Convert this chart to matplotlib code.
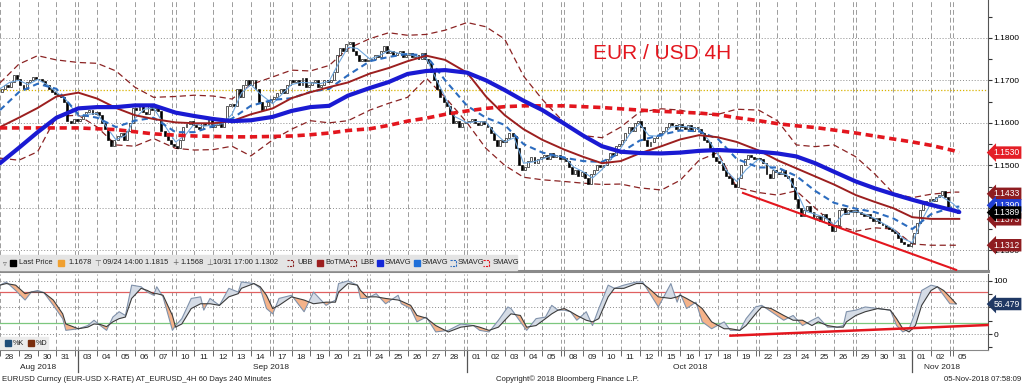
import numpy as np
import matplotlib.pyplot as plt
from matplotlib.patches import Rectangle

plt.rcParams['font.family'] = ['Liberation Sans', 'DejaVu Sans']

# trading days on the axis: 4H bars, 6 per day, every Monday starts with a Sunday bar
day_labels = ['28', '29', '30', '31',
              '03', '04', '05', '06', '07', '10', '11', '12', '13', '14', '17', '18', '19', '20', '21',
              '24', '25', '26', '27', '28',
              '01', '02', '03', '04', '05', '08', '09', '10', '11', '12', '15', '16', '17', '18', '19',
              '22', '23', '24', '25', '26', '29', '30', '31',
              '01', '02', '05']
monday_idx = [4, 9, 14, 19, 24, 29, 34, 39, 44, 49]
bars_in_day = [6] * 49 + [2]
months = ['Aug 2018', 'Sep 2018', 'Oct 2018', 'Nov 2018']
month_first = [0, 4, 24, 47]
month_last = [3, 23, 46, 49]

# closes of the 4H bars, pips above 1.1000
first_open = 672
closes = [
    680, 688, 684, 695, 712, 703, 690, 680, 695, 700, 708, 702,
    704, 698, 690, 680, 672, 668, 662, 660, 650, 605, 600, 608,
    605,
    610, 615, 625, 630, 620, 625, 618, 600, 585, 560, 545, 560,
    570, 575, 560, 580, 600, 635, 630, 640, 625, 620, 640, 630,
    635, 628, 580, 570, 560, 550,
    545,
    540, 560, 590, 598, 605, 595, 590, 585, 600, 595, 610, 590,
    595, 600, 590, 605, 640, 645, 640, 680, 660, 690, 700, 690,
    700, 680, 650, 630, 640, 650,
    655,
    660, 670, 680, 670, 690, 700, 695, 700, 690, 705, 685, 690,
    695, 700, 685, 690, 700, 695, 700, 720, 760, 775, 770, 785,
    790, 770, 760, 745, 750, 745,
    748,
    750, 760, 755, 770, 780, 765, 770, 760, 765, 770, 755, 760,
    765, 755, 760, 750, 765, 750, 740, 720, 700, 680, 660, 650,
    640, 620, 600, 605, 590, 600,
    602,
    605, 610, 600, 595, 605, 598, 590, 575, 560, 545, 560, 555,
    565, 575, 570, 540, 500, 490, 495, 510, 520, 505, 515, 520,
    525, 515, 530, 520, 525, 515,
    518,
    510, 495, 480, 490, 475, 485, 470, 455, 480, 490, 500, 495,
    500, 515, 530, 525, 545, 550, 560, 575, 590, 580, 600, 605,
    590, 560, 545, 555, 565, 570,
    575,
    580, 590, 600, 595, 585, 598, 590, 585, 595, 580, 590, 585,
    575, 560, 555, 540, 520, 510, 505, 490, 475, 470, 455, 450,
    470, 500, 515, 525, 520, 515,
    518,
    515, 505, 480, 470, 490, 485, 480, 490, 475, 470, 450, 420,
    400, 380, 395, 405, 390, 375, 380, 370, 385, 375, 360, 345,
    360, 395, 400, 385, 395, 390,
    395,
    390, 385, 380, 385, 375, 370, 375, 365, 360, 355, 350, 345,
    340, 330, 320, 315, 310, 318, 340, 365, 395, 410, 415, 420,
    415, 425, 430, 440, 425, 400,
    395,
    392, 389,
]

# indicators read at each day boundary (pips above 1.1000)
blue_sma = [505, 541, 578, 612, 634, 637, 637, 641, 641, 624, 616, 609, 604, 606, 614, 628, 637,
            640, 664, 682, 696, 715, 722, 724, 718, 700, 677, 652, 630, 598, 570, 545, 532, 529,
            528, 530, 534, 536, 534, 532, 528, 521, 505, 485, 462, 446, 432, 419, 407, 394, 390]
red_sma = [588, 588, 588, 588, 588, 586, 584, 579, 574, 571, 569, 568, 567, 567, 568, 569, 572,
           576, 582, 586, 594, 604, 611, 620, 628, 634, 638, 640, 640, 640, 638, 636, 633, 630,
           627, 625, 623, 619, 612, 605, 598, 593, 589, 583, 576, 569, 562, 555, 547, 535, 530]
botma = [590, 612, 635, 662, 671, 657, 635, 618, 609, 601, 599, 599, 604, 620, 634, 658, 672,
         684, 695, 716, 729, 745, 758, 748, 718, 662, 618, 585, 560, 537, 520, 505, 510, 528,
         545, 561, 571, 566, 555, 535, 512, 493, 474, 455, 430, 414, 399, 378, 374, 374, 374]
upper_bb = [694, 738, 758, 748, 742, 740, 722, 684, 660, 662, 665, 663, 656, 690, 708, 724, 722,
            735, 775, 798, 812, 806, 808, 818, 836, 826, 797, 710, 655, 600, 570, 565, 590, 625,
            633, 630, 620, 620, 632, 630, 605, 548, 544, 548, 520, 480, 434, 424, 432, 437, 437]
lower_bb = [517, 512, 532, 615, 618, 590, 548, 545, 563, 540, 536, 537, 545, 522, 560, 585, 605,
            600, 605, 630, 646, 660, 705, 660, 600, 540, 500, 472, 466, 462, 458, 455, 456, 447,
            442, 465, 512, 530, 448, 436, 430, 440, 400, 360, 345, 353, 350, 315, 312, 312, 312]
dash_blue = [630, 672, 692, 680, 620, 612, 590, 605, 612, 578, 578, 592, 610, 640, 654, 658, 673,
             680, 712, 745, 755, 762, 758, 700, 640, 612, 595, 550, 530, 518, 510, 508, 530, 558,
             572, 582, 580, 562, 515, 495, 495, 475, 440, 412, 398, 390, 375, 350, 385, 402, 403]
# fast average, read at day start and mid-day
fast_avg = [680, 695, 700, 690, 702, 690, 672, 655, 615, 620, 622, 590, 560, 570, 610, 632,
            635, 600, 555, 570, 598, 592, 595, 598, 620, 670, 690, 668, 645, 668, 690, 695,
            694, 692, 698, 740, 778, 775, 750, 758, 770, 764, 762, 756, 752, 705, 660, 615,
            600, 603, 602, 575, 555, 565, 505, 508, 515, 523, 520, 496, 485, 470, 490, 515,
            540, 575, 598, 570, 568, 590, 592, 590, 585, 560, 525, 485, 462, 490, 515, 500,
            483, 478, 440, 392, 385, 378, 360, 385, 392, 385, 375, 362, 350, 328, 318, 370,
            412, 428, 410, 395]
trend_bar = [237, 305]
trend_pips = [435, 254]
last_price_pips = 678

# slow stochastic
stoch_bar = [0, 2, 5, 8, 10, 12, 14, 17, 20, 21, 25, 28, 30, 32, 34, 36, 38, 40, 42, 45,
             47, 49, 50, 52, 55, 56, 58, 61, 64, 65, 67, 70, 73, 76, 77, 81, 83, 85, 87, 89,
             93, 97, 100, 104, 107, 108, 111, 114, 115, 117, 120, 123, 127, 128, 131, 133, 136, 139, 143, 147,
             151, 153, 156, 159, 162, 163, 166, 168, 171, 174, 176, 178, 180, 182, 184, 187, 189, 191, 194, 196,
             199, 203, 205, 207, 210, 214, 216, 217, 219, 222, 224, 227, 231, 233, 236, 238, 241, 243, 246, 250,
             253, 256, 259, 261, 264, 267, 269, 270, 273, 276, 280, 284, 286, 288, 290, 292, 294, 297, 299, 301,
             303, 305]
stoch_k = [92, 98, 82, 64, 79, 82, 78, 54, 29, 7, 10, 16, 26, 16, 7, 32, 42, 35, 92, 89,
           79, 73, 89, 70, 7, 16, 29, 67, 70, 45, 67, 54, 86, 79, 98, 95, 86, 48, 38, 67,
           73, 42, 79, 54, 64, 95, 100, 92, 67, 67, 76, 57, 73, 57, 48, 23, 32, 4, 7, 19,
           16, 7, 4, 26, 51, 48, 23, 7, 29, 32, 54, 45, 45, 42, 26, 42, 16, 48, 92, 86,
           92, 98, 98, 79, 51, 95, 60, 76, 48, 60, 23, 10, 23, 7, 7, 29, 51, 54, 42, 26,
           35, 16, 26, 32, 13, 13, 16, 42, 45, 51, 48, 45, 16, 4, 10, 42, 82, 92, 89, 73,
           57, 56.5]
stoch_d = [92, 95, 92, 76, 79, 79, 78, 64, 38, 19, 10, 13, 19, 18, 14, 23, 29, 32, 67, 86,
           82, 76, 76, 73, 35, 13, 19, 48, 57, 57, 57, 54, 70, 76, 86, 95, 89, 73, 48, 54,
           70, 64, 57, 60, 60, 79, 95, 92, 82, 70, 70, 67, 64, 62, 54, 35, 30, 16, 4, 13,
           16, 13, 7, 13, 32, 38, 35, 13, 16, 29, 38, 45, 48, 42, 35, 26, 23, 29, 70, 86,
           86, 95, 95, 86, 70, 67, 70, 73, 67, 57, 48, 23, 10, 10, 7, 16, 38, 51, 48, 35,
           26, 26, 16, 23, 16, 13, 13, 23, 35, 42, 48, 45, 29, 10, 4, 16, 54, 82, 89, 82,
           70, 57]
stoch_trend_bar = [233, 315]
stoch_trend_val = [-3, 17]


def price(p):
    return 1.1 + np.asarray(p, dtype=float) / 1e4


# bar positions
bar_start = []
b = 0
for i, n in enumerate(bars_in_day):
    if i in monday_idx:
        b += 1
    bar_start.append(b)
    b += n
n_bars = b
edges = np.array(bar_start + [n_bars])
fast_x = np.minimum(np.ravel([[s, s + 3] for s in bar_start]), n_bars)
vlines = sorted(bar_start + [bar_start[i] - 1 for i in monday_idx])

fig = plt.figure(figsize=(10.23, 3.84), dpi=100)
ax = fig.add_axes([0, 0.2943, 0.9653, 0.7057])
ax2 = fig.add_axes([0, 0.0885, 0.9653, 0.198])
XR = (0, 315)

# ---- main price panel
ax.set_xlim(*XR)
ax.set_ylim(1.12514, 1.1889)
for v in np.arange(1.13, 1.185, 0.01):
    ax.axhline(v, color='#8c8c8c', lw=0.7, ls=(0, (1, 2)), zorder=1)
for x in vlines:
    ax.axvline(x, color='#9c9c9c', lw=0.7, ls=(0, (5, 3)), zorder=1)
ax.axhline(price(last_price_pips), color='#d9b300', lw=0.9, ls=(0, (1, 1.5)), zorder=1)

c = price(closes)
o = np.r_[price(first_open), c[:-1]]
xb = np.arange(n_bars) + 0.5
up = c >= o
ax.bar(xb, c - o, bottom=o, width=0.62, color=np.where(up, 'white', 'black'),
       edgecolor='black', linewidth=0.45, zorder=3)

ax.plot(edges, price(upper_bb), color='#8b2323', lw=0.9, ls=(0, (5, 3)), zorder=2)
ax.plot(edges, price(lower_bb), color='#8b2323', lw=0.9, ls=(0, (5, 3)), zorder=2)
ax.plot(fast_x, price(fast_avg), color='#6fa6dc', lw=0.8, zorder=4)
ax.plot(edges, price(dash_blue), color='#2c6cbf', lw=1.5, ls=(0, (3, 2)), zorder=5)
ax.plot(edges, price(botma), color='#9c1f1f', lw=1.4, zorder=5)
ax.plot(edges, price(red_sma), color='#e3161e', lw=2.6, ls=(0, (2, 1.3)), zorder=6)
ax.plot(edges, price(blue_sma), color='#1a1ad2', lw=3.0, zorder=7, solid_capstyle='round')
ax.plot(trend_bar, price(trend_pips), color='#e3161e', lw=1.5, zorder=6)

ax.text(0.670, 0.803, 'EUR / USD 4H', transform=ax.transAxes, ha='center', va='center',
        fontsize=15, color='#e3161e', family=['Liberation Sans Narrow', 'Liberation Sans'])

for side in ['top', 'left']:
    ax.spines[side].set_visible(False)
ax.spines['bottom'].set_color('#8a8a8a')
ax.spines['bottom'].set_linewidth(2.2)
ax.spines['right'].set_color('#555555')
ax.set_xticks([])
ax.yaxis.tick_right()
ax.set_yticks(np.arange(1.13, 1.185, 0.01))
ax.set_yticklabels(['%.4f' % v for v in np.arange(1.13, 1.185, 0.01)])
ax.set_yticks(np.arange(1.135, 1.19, 0.01), minor=True)
ax.tick_params(axis='y', which='both', direction='out', length=3, width=0.8, color='#333333',
               labelsize=6, pad=1.5)


def tag(axis, y, txt, fc, z):
    axis.text(1.006, y, txt, transform=axis.get_yaxis_transform(), ha='left', va='center',
              fontsize=6.2, color='white', zorder=z, clip_on=False,
              bbox=dict(boxstyle='larrow,pad=0.2', fc=fc, ec='none'))


tag(ax, 1.1530, '1.1530', '#e41e26', 10)
tag(ax, 1.1433, '1.1433', '#8e1c20', 10)
tag(ax, 1.1373, '1.1373', '#8e1c20', 10)
tag(ax, 1.1406, '1.1390', '#1f3fd4', 11)
tag(ax, 1.1389, '1.1389', 'black', 12)
tag(ax, 1.1312, '1.1312', '#8e1c20', 10)

# legend strip of the price panel
W, H = 987.5, 271.0
ax.add_patch(Rectangle((0, 1 / H), 517 / W, 15 / H, transform=ax.transAxes, color='#e4e4e4',
                       zorder=8, clip_on=False))
ly = 8 / H
leg_sq = [(10, 'black'), (58, '#f0a030'), (317, '#9c1f1f'), (377, '#1428d8'), (414, '#1e6fd9')]
for p, col in leg_sq:
    ax.add_patch(Rectangle((p / W, (ly * H - 2.8) / H), 5.5 / W, 5.5 / H, transform=ax.transAxes,
                           color=col, zorder=9))
leg_txt = [(19, 'Last Price'), (68, '1.1678'), (103, '09/24 14:00 1.1815'), (180, '1.1568'),
           (213, '10/31 17:00 1.1302'), (297, 'UBB'), (325, 'BoTMA'), (360, 'LBB'),
           (385, 'SMAVG'), (422, 'SMAVG'), (458, 'SMAVG'), (493, 'SMAVG')]
for p, t in leg_txt:
    ax.text(p / W, ly, t, transform=ax.transAxes, fontsize=5.4, va='center', ha='left',
            color='#222222', zorder=9)
for p, t in [(3, '▿'), (94, '⊤'), (172, '+'), (206, '⊥')]:
    ax.text(p / W, ly, t, transform=ax.transAxes, fontsize=5.5, va='center', ha='left',
            color='#666666', zorder=9, family=['DejaVu Sans'])
for p, col in [(287, '#8b2323'), (350, '#8b2323'), (450, '#2c6cbf'), (483, '#e3161e')]:
    xs = np.array([p, p + 6, p + 6, p]) / W
    ys = (ly * H + np.array([3, 3, -3, -3])) / H
    ax.plot(xs, ys, transform=ax.transAxes, color=col, lw=0.8, ls=(0, (2, 1)), zorder=9,
            clip_on=False)

# ---- stochastic panel
ax2.set_xlim(*XR)
ax2.set_ylim(-30, 113)
for v in [0, 50, 100]:
    ax2.axhline(v, color='#8c8c8c', lw=0.7, ls=(0, (1, 2)), zorder=1)
for x in vlines:
    ax2.axvline(x, color='#9c9c9c', lw=0.7, ls=(0, (4, 3)), zorder=1)
ax2.axhline(80, color='#e06060', lw=0.9, zorder=2)
ax2.axhline(20, color='#7cc77e', lw=0.9, zorder=2)

k = np.array(stoch_k, dtype=float)
d = np.array(stoch_d, dtype=float)
ax2.fill_between(stoch_bar, k, d, where=k >= d, interpolate=True, color='#d5dce6', lw=0, zorder=3)
ax2.fill_between(stoch_bar, k, d, where=k < d, interpolate=True, color='#f5b38a', lw=0, zorder=3)
ax2.plot(stoch_bar, k, color='#8092ab', lw=0.8, zorder=4)
ax2.plot(stoch_bar, d, color='#3c3c3c', lw=0.8, zorder=4)
ax2.plot(stoch_trend_bar, stoch_trend_val, color='#e3161e', lw=1.8, zorder=5, clip_on=False)

ax2.spines['top'].set_visible(False)
ax2.spines['left'].set_visible(False)
ax2.spines['bottom'].set_color('#888888')
ax2.spines['right'].set_color('#555555')
ax2.yaxis.tick_right()
ax2.set_yticks([0, 50, 100])
ax2.set_yticklabels(['0', '', '100'])
ax2.set_yticks([-25, 25, 75], minor=True)
ax2.tick_params(axis='y', which='both', direction='out', length=3, width=0.8, color='#333333',
                labelsize=6, pad=1.5)
ax2.set_xticks(vlines)
ax2.tick_params(axis='x', direction='out', length=4, width=0.7, color='#666666', labelbottom=False)
tag(ax2, 56.479, '56.479', '#1f3864', 10)

# %K / %D legend
H2 = 76.0
ax2.add_patch(Rectangle((0, 1 / H2), 48 / W, 12 / H2, transform=ax2.transAxes, color='#ececec',
                        zorder=6))
for p, col, t in [(5, '#1f4e79', '%K'), (28, '#7a2e0e', '%D')]:
    ax2.add_patch(Rectangle((p / W, 4.5 / H2), 5.5 / W, 5.5 / H2, transform=ax2.transAxes,
                            color=col, zorder=7))
    ax2.text((p + 8) / W, 7 / H2, t, transform=ax2.transAxes, fontsize=5.2, va='center',
             color='#222222', zorder=7)

# date axis
for i, lab in enumerate(day_labels):
    ax2.text(bar_start[i] + 3, -0.105, lab, transform=ax2.get_xaxis_transform(), ha='center',
             va='center', fontsize=6, color='#222222')
for m, f, l in zip(months, month_first, month_last):
    ax2.text((bar_start[f] + bar_start[l] + 6) / 2, -0.23, m, transform=ax2.get_xaxis_transform(),
             ha='center', va='center', fontsize=6, color='#222222')
for f in month_first[1:]:
    ax2.plot([bar_start[f], bar_start[f]], [0, -0.29], transform=ax2.get_xaxis_transform(),
             color='#555555', lw=0.9, clip_on=False)

fig.text(0.002, 0.013, 'EURUSD Curncy (EUR-USD X-RATE) AT_EURUSD_4H 60 Days 240 Minutes',
         fontsize=5.6, va='center', ha='left', color='#222222')
fig.text(0.555, 0.013, 'Copyright© 2018 Bloomberg Finance L.P.', fontsize=5.6, va='center',
         ha='center', color='#222222')
fig.text(0.998, 0.013, '05-Nov-2018 07:58:09', fontsize=5.6, va='center', ha='right',
         color='#222222')

fig.savefig('out.png', dpi=100)
